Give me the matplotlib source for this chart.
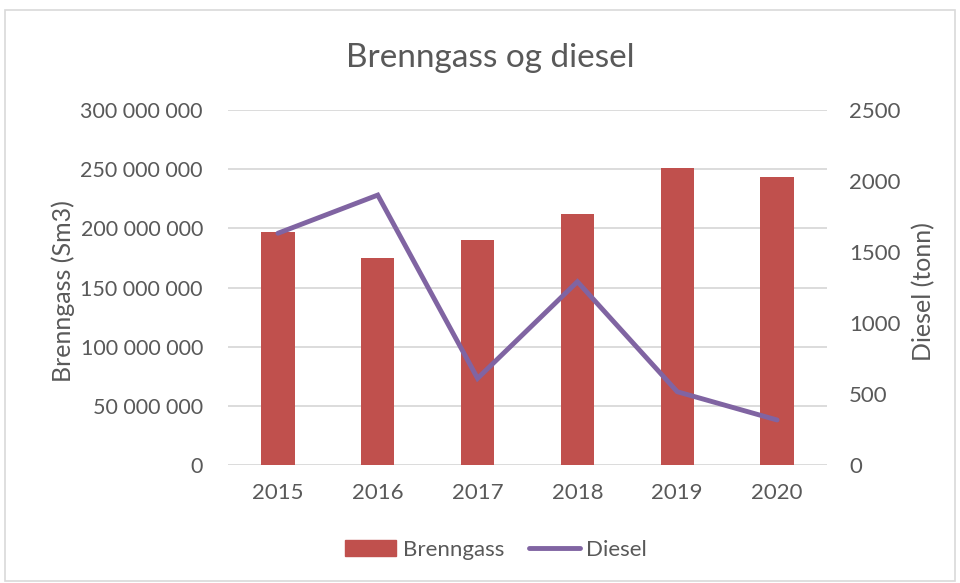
import matplotlib
matplotlib.use("Agg")
import matplotlib.pyplot as plt
from matplotlib.patches import Rectangle
from matplotlib.lines import Line2D
from matplotlib.ticker import FuncFormatter, MultipleLocator

years = ["2015", "2016", "2017", "2018", "2019", "2020"]
brenngass = [196_800_000, 175_100_000, 190_300_000, 212_000_000, 251_000_000, 243_500_000]
diesel = [1632, 1901, 610, 1291, 516, 317]

plt.rcParams['font.family'] = ['Lato', 'DejaVu Sans']
txt = '#595959'
bar_c = '#C0504D'
line_c = '#8064A2'
grid_c = '#D9D9D9'

fig = plt.figure(figsize=(9.6, 5.83), dpi=100)
ax = fig.add_axes([228/960, 1-465/583, (827-228)/960, (465-110)/583])
ax2 = ax.twinx()

x = list(range(len(years)))
ax.bar(x, brenngass, width=0.333, color=bar_c, zorder=2)
ax.set_ylim(0, 300_000_000)
ax.yaxis.set_major_locator(MultipleLocator(50_000_000))
ax.yaxis.set_major_formatter(FuncFormatter(lambda v, p: f"{int(v):,}".replace(',', ' ')))
ax.set_xlim(-0.5, len(years) - 0.5)
ax.set_xticks(x)
ax.set_xticklabels(years)
ax.grid(axis='y', color=grid_c, linewidth=1.3, zorder=0)
ax.set_axisbelow(True)

ax2.plot(x, diesel, color=line_c, linewidth=3.5, solid_capstyle='round', solid_joinstyle='miter', zorder=3)
ax2.set_ylim(0, 2500)
ax2.yaxis.set_major_locator(MultipleLocator(500))

for a in (ax, ax2):
    for s in a.spines.values():
        s.set_visible(False)
    a.tick_params(length=0, labelcolor=txt)
ax.tick_params(axis='y', pad=18, labelsize=15.5)
ax.tick_params(axis='x', pad=13, labelsize=16)
ax2.tick_params(axis='y', pad=16, labelsize=16)

ax.set_ylabel("Brenngass (Sm3)", fontsize=18, color=txt)
ax2.set_ylabel("Diesel (tonn)", fontsize=18, color=txt)
ax.yaxis.set_label_coords(63/960, 0.5, transform=fig.transFigure)
ax2.yaxis.set_label_coords(924/960, 0.5, transform=fig.transFigure)
ax.yaxis.label.set_va('center')
ax2.yaxis.label.set_va('center')

fig.text(490/960, 1-67/583, "Brenngass og diesel", ha='center', va='baseline', fontsize=24, color=txt)

handles = [Rectangle((0, 0), 1, 1, color=bar_c), Line2D([0], [0], color=line_c, linewidth=3.5, solid_capstyle='round')]
fig.legend(handles, ["Brenngass", "Diesel"], loc='center', bbox_to_anchor=(496/960, 1-550/583), ncol=2,
           frameon=False, fontsize=16, labelcolor=txt, handlelength=2.3, handletextpad=0.3, columnspacing=1.1,
           borderpad=0, borderaxespad=0)

fig.patches.append(Rectangle((5/960, 2/583), 950/960, 571/583, transform=fig.transFigure,
                             fill=False, edgecolor='#D9D9D9', linewidth=1.2))

fig.savefig("out.png", dpi=100)
